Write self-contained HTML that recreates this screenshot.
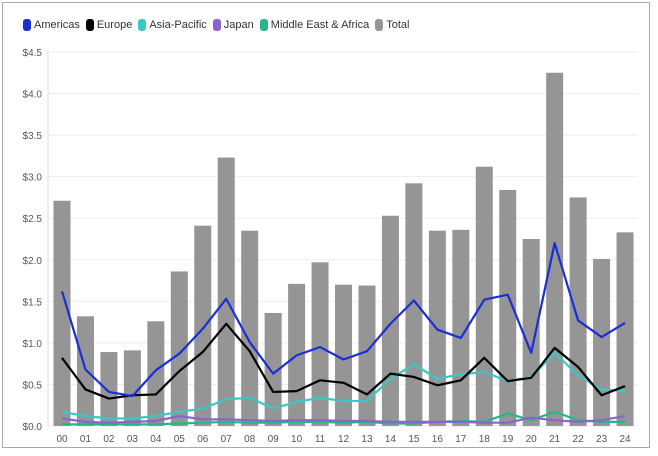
<!DOCTYPE html>
<html><head><meta charset="utf-8"><style>
body{margin:0;background:#fff;font-family:"Liberation Sans",sans-serif}
#frame{position:absolute;left:2px;top:2px;width:646px;height:444px;border:1px solid #aaa}
#legend{position:absolute;top:19px;left:23px;display:flex;gap:6px;font-size:11px;color:#333;white-space:nowrap}
.leg{display:flex;align-items:center}
.sw{display:inline-block;width:8px;height:12px;border-radius:3px;margin-right:3px}
</style></head><body>
<div id="frame"></div>
<div id="legend"></div>
<svg id="c" width="658" height="456" style="position:absolute;left:0;top:0"></svg>
<script>
const categories=["00","01","02","03","04","05","06","07","08","09","10","11","12","13","14","15","16","17","18","19","20","21","22","23","24"];
const total=[2.71,1.32,0.89,0.91,1.26,1.86,2.41,3.23,2.35,1.36,1.71,1.97,1.70,1.69,2.53,2.92,2.35,2.36,3.12,2.84,2.25,4.25,2.75,2.01,2.33];
const americas=[1.62,0.68,0.41,0.36,0.67,0.87,1.17,1.53,1.01,0.63,0.85,0.95,0.80,0.90,1.23,1.51,1.16,1.06,1.52,1.58,0.88,2.20,1.27,1.07,1.24];
const europe=[0.82,0.44,0.33,0.37,0.38,0.66,0.89,1.23,0.90,0.41,0.42,0.55,0.52,0.38,0.63,0.59,0.49,0.55,0.82,0.54,0.58,0.94,0.71,0.37,0.48];
const asiaPacific=[0.17,0.12,0.09,0.09,0.12,0.17,0.21,0.32,0.34,0.21,0.29,0.34,0.30,0.30,0.57,0.74,0.57,0.62,0.65,0.54,0.59,0.88,0.61,0.44,0.42];
const japan=[0.09,0.05,0.04,0.05,0.06,0.12,0.08,0.08,0.07,0.06,0.07,0.07,0.06,0.06,0.05,0.05,0.05,0.05,0.04,0.04,0.10,0.07,0.05,0.07,0.12];
const mea=[0.02,0.02,0.02,0.02,0.02,0.03,0.04,0.05,0.04,0.04,0.05,0.05,0.04,0.05,0.03,0.03,0.05,0.06,0.05,0.15,0.07,0.17,0.07,0.05,0.05];
const yTicks=[0,0.5,1,1.5,2,2.5,3,3.5,4,4.5];
const yTickLabels=["$0.0","$0.5","$1.0","$1.5","$2.0","$2.5","$3.0","$3.5","$4.0","$4.5"];
const seriesNames=["Americas","Europe","Asia-Pacific","Japan","Middle East & Africa","Total"];
const seriesColors=["#1a2fd6","#000000","#3cc6c6","#8a63cc","#25b886","#959595"];

const NS="http://www.w3.org/2000/svg";
const svg=document.getElementById('c');
const X0=62,STEP=23.46,Y0=426,YTOP=52,YMAX=4.5;
const x=i=>X0+i*STEP;
const y=v=>Y0-v/YMAX*(Y0-YTOP);
function mk(t,a){const e=document.createElementNS(NS,t);for(const k in a)e.setAttribute(k,a[k]);svg.appendChild(e);return e;}
yTicks.forEach((v,i)=>{
  const g=mk('line',{x1:48,x2:638,y1:y(v),y2:y(v),stroke:'#eee','stroke-width':1});
  
  
  const t=mk('text',{x:42,y:y(v)+4,'text-anchor':'end','font-size':10,fill:'#555','font-family':'Liberation Sans, sans-serif'});
  t.textContent=yTickLabels[i];
  
  
});
mk('line',{x1:48,x2:48,y1:50,y2:426,stroke:'#ddd'});
total.forEach((v,i)=>{
  const r=mk('rect',{x:x(i)-8.5,y:y(v),width:17,height:Y0-y(v),fill:'#959595'});
  
  
});
categories.forEach((c,i)=>{
  const t=mk('text',{x:x(i),y:442,'text-anchor':'middle','font-size':10,fill:'#555','font-family':'Liberation Sans, sans-serif'});
  t.textContent=c;
  
  
});
[[mea,4],[japan,3],[asiaPacific,2],[europe,1],[americas,0]].forEach(([d,k])=>{
  const p=mk('polyline',{points:d.map((v,i)=>x(i)+','+y(v)).join(' '),fill:'none',stroke:seriesColors[k],'stroke-width':2.2,'stroke-linejoin':'round'});
  
  
});
const leg=document.getElementById('legend');
seriesNames.forEach((n,i)=>{
  const d=document.createElement('div');
  d.className='leg';
  d.innerHTML='<span class="sw" style="background:'+seriesColors[i]+'"></span>'+n.replace('&','&amp;');
  
  
  leg.appendChild(d);
});
</script>
</body></html>
